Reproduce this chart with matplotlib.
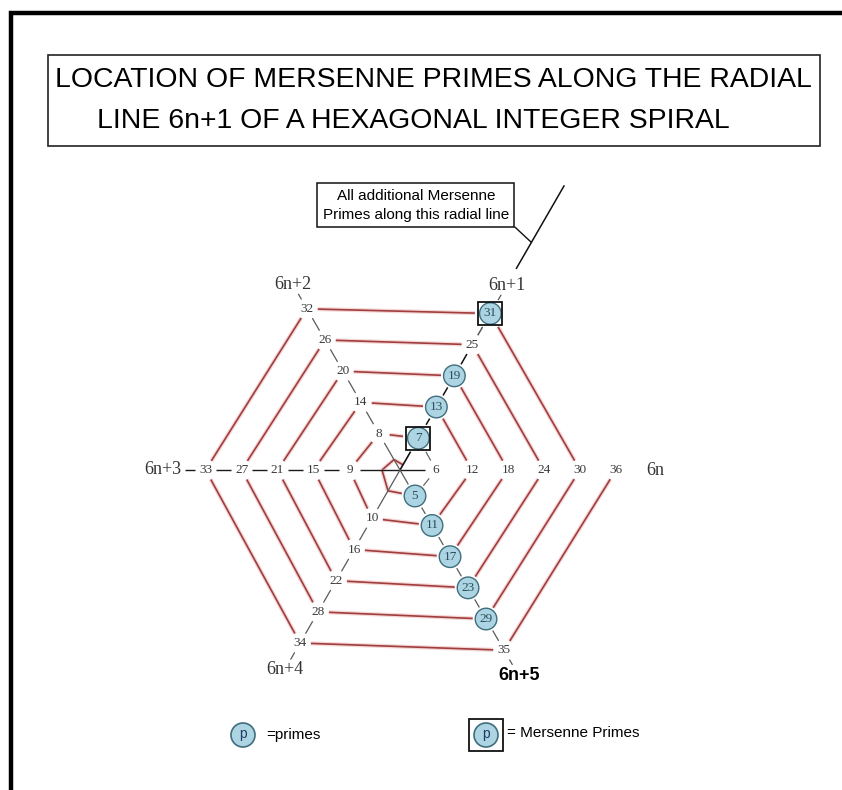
import numpy as np
import matplotlib
matplotlib.use("Agg")
import matplotlib.pyplot as plt
from matplotlib.patches import Circle, Rectangle

# integers on the spiral and the ones that get marked
numbers = list(range(1, 37))
labelled = list(range(5, 37))
primes = [5, 7, 11, 13, 17, 19, 23, 29, 31]
mersenne = [7, 31]
radial_names = ["6n", "6n+1", "6n+2", "6n+3", "6n+4", "6n+5"]

title_lines = ["LOCATION OF MERSENNE PRIMES ALONG THE RADIAL",
               "LINE 6n+1 OF A HEXAGONAL INTEGER SPIRAL"]
note_text = "All additional Mersenne\nPrimes along this radial line"
legend_texts = ["=primes", "= Mersenne Primes"]

# layout of the hand drawn spiral (ring offset for each residue mod 6)
ring_offset = [0.0, 0.02, 0.17, 0.40, 0.55, 0.78]
name_radius = [7.1, 5.92, 5.95, 6.58, 6.4, 6.6]

RED = "#a03d3d"
PINK = "#f5d6d6"
GRAY = "#5a5a5a"
FILL = "#acd4e2"
EDGE = "#3f6e7e"


def pos(k):
    n, j = divmod(k, 6)
    r = n + ring_offset[j] if k >= 6 else k / 6
    a = np.radians(60 * j)
    return np.array([r * np.cos(a), r * np.sin(a)])


def polar(r, j):
    a = np.radians(60 * j)
    return np.array([r * np.cos(a), r * np.sin(a)])


def gap(k):
    if k < 5:
        return 0.0
    if k in mersenne:
        return 0.43
    if k in primes:
        return 0.37
    return 0.3


def seg(ax, p, q, ga, gb, **kw):
    d = q - p
    u = d / np.hypot(*d)
    a = p + u * ga
    b = q - u * gb
    ax.plot([a[0], b[0]], [a[1], b[1]], solid_capstyle="butt", **kw)


fig = plt.figure(figsize=(8.42, 7.9), dpi=100)

# background axes in pixel units: frame, title, legend
bg = fig.add_axes([0, 0, 1, 1])
bg.set_xlim(0, 842)
bg.set_ylim(790, 0)
bg.axis("off")

bg.plot([11, 11, 845], [795, 13, 13], color="black", lw=3.2, solid_joinstyle="miter")
bg.add_patch(Rectangle((48, 55), 772, 91, fill=False, ec="#222222", lw=1.2))
bg.text(55, 87, title_lines[0], fontsize=20.4, family="Liberation Sans", va="baseline", ha="left")
bg.text(97, 128, title_lines[1], fontsize=20.4, family="Liberation Sans", va="baseline", ha="left")

# legend
bg.add_patch(Circle((243, 735), 12, fc=FILL, ec=EDGE, lw=1.2))
bg.text(243, 734, "p", fontsize=10, family="Liberation Sans", color="#1f3a66", ha="center", va="center")
bg.text(266, 735, legend_texts[0], fontsize=11, family="Liberation Sans", ha="left", va="center")
bg.add_patch(Rectangle((469, 719), 34, 32, fill=False, ec="#111111", lw=1.3))
bg.add_patch(Circle((486, 735), 12, fc=FILL, ec=EDGE, lw=1.2))
bg.text(486, 734, "p", fontsize=10, family="Liberation Sans", color="#1f3a66", ha="center", va="center")
bg.text(507, 733, legend_texts[1], fontsize=11, family="Liberation Sans", ha="left", va="center")

# hexagon axes: centre at pixel (400, 470), 36 px per ring
ax = fig.add_axes([76 / 842, (320 - 8.8 * 36) / 790, 648 / 842, 17.6 * 36 / 790])
ax.set_xlim(-9, 9)
ax.set_ylim(-8.8, 8.8)
ax.axis("off")
ax.patch.set_alpha(0)

# spiral (ring) lines
for k in numbers[:-1]:
    p, q = pos(k), pos(k + 1)
    if k in (5, 6):
        seg(ax, p, q, gap(k), gap(k + 1), color=GRAY, lw=0.8)
        continue
    seg(ax, p, q, gap(k), gap(k + 1), color=PINK, lw=3.0)
    seg(ax, p, q, gap(k), gap(k + 1), color=RED, lw=1.2)

origin = np.zeros(2)

# 6n+3 axis, solid black through the centre to 6
left = [k for k in labelled if k % 6 == 3][::-1] + [6]
for a, b in zip(left[:-1], left[1:]):
    seg(ax, pos(a), pos(b), gap(a), gap(b), color="#1a1a1a", lw=1.0)
seg(ax, polar(name_radius[3], 3), pos(33), 0.62, 0.3, color="#1a1a1a", lw=1.0)

# 6n+4 / 6n+1 axis
low_left = [k for k in labelled if k % 6 == 4][::-1]
for a, b in zip(low_left[:-1], low_left[1:]):
    seg(ax, pos(a), pos(b), gap(a), gap(b), color=GRAY, lw=0.9)
seg(ax, polar(name_radius[4], 4), pos(34), 0.32, 0.3, color=GRAY, lw=0.9)
seg(ax, pos(10), origin, gap(10), 0, color=GRAY, lw=0.9)
seg(ax, origin, pos(7), 0, gap(7), color="#111111", lw=1.2)
up_right = [k for k in labelled if k % 6 == 1]
for a, b in zip(up_right[:-1], up_right[1:]):
    c = GRAY if b == 31 else "#111111"
    seg(ax, pos(a), pos(b), gap(a), gap(b), color=c, lw=1.1)
seg(ax, pos(31), polar(name_radius[1], 1), gap(31), 0.3, color=GRAY, lw=0.9)
seg(ax, polar(6.45, 1), polar(9.13, 1), 0, 0, color="#111111", lw=1.1)

# 6n+2 / 6n+5 axis
up_left = [k for k in labelled if k % 6 == 2][::-1]
low_right = [k for k in labelled if k % 6 == 5]
for line in (up_left, low_right):
    for a, b in zip(line[:-1], line[1:]):
        seg(ax, pos(a), pos(b), gap(a), gap(b), color=GRAY, lw=0.9)
seg(ax, pos(8), pos(5), gap(8), gap(5), color=GRAY, lw=0.9)
seg(ax, polar(name_radius[2], 2), pos(32), 0.3, 0.3, color=GRAY, lw=0.9)
seg(ax, pos(35), polar(name_radius[5], 5), 0.3, 0.35, color=GRAY, lw=0.9)

# numbers, prime circles and Mersenne boxes
for k in labelled:
    x, y = pos(k)
    if k in mersenne:
        ax.add_patch(Rectangle((x - 0.33, y - 0.32), 0.66, 0.64, fill=False,
                               ec="#111111", lw=1.3, zorder=4))
    if k in primes:
        ax.add_patch(Circle((x, y), 0.3, fc=FILL, ec=EDGE, lw=1.0, zorder=3))
        ax.text(x, y, str(k), fontsize=9.5, family="Liberation Serif", color="#2a4f5c",
                ha="center", va="center", zorder=5)
    else:
        ax.text(x, y, str(k), fontsize=9.5, family="Liberation Serif", color="#3a3a3a",
                ha="center", va="center", zorder=5)

# radial line names
for j, name in enumerate(radial_names):
    x, y = polar(name_radius[j], j)
    if name == "6n+5":
        ax.text(x, y, name, fontsize=13, family="Liberation Sans", weight="bold",
                color="black", ha="center", va="center")
    else:
        ax.text(x, y, name, fontsize=13, family="Liberation Serif", color="#333333",
                ha="center", va="center")

# note pointing at the 6n+1 line
ax.annotate(note_text, xy=polar(7.3, 1), xytext=(0.44, 7.36), textcoords="data",
            fontsize=11, family="Liberation Sans", ha="center", va="center",
            linespacing=1.45,
            bbox=dict(boxstyle="square,pad=0.35", fc="white", ec="#111111", lw=1.1),
            arrowprops=dict(arrowstyle="-", relpos=(1, 0), shrinkA=0, shrinkB=0,
                            color="#111111", lw=1.0))

fig.savefig("out.png", dpi=100)
